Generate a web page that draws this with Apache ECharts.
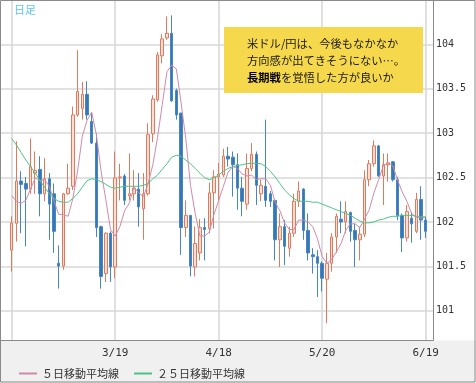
<!DOCTYPE html>
<html><head><meta charset="utf-8">
<script src="https://cdn.jsdelivr.net/npm/echarts@6/dist/echarts.min.js"></script>
<style>html,body{margin:0;padding:0;background:#fff}#c{width:476px;height:383px}</style>
</head><body><div id="c"></div>
<script>
// ---- data ----
const dates = ['2/17','2/18','2/19','2/20','2/21','2/24','2/25','2/26','2/27','2/28',
'3/3','3/4','3/5','3/6','3/7','3/10','3/11','3/12','3/13','3/14','3/17','3/18','3/19','3/20','3/21','3/24','3/25','3/26','3/27','3/28','3/31',
'4/1','4/2','4/3','4/4','4/7','4/8','4/9','4/10','4/11','4/14','4/15','4/16','4/17','4/18','4/21','4/22','4/23','4/24','4/25','4/28','4/29','4/30',
'5/1','5/2','5/5','5/6','5/7','5/8','5/9','5/12','5/13','5/14','5/15','5/16','5/19','5/20','5/21','5/22','5/23','5/26','5/27','5/28','5/29','5/30',
'6/2','6/3','6/4','6/5','6/6','6/9','6/10','6/11','6/12','6/13','6/16','6/17','6/18','6/19'];
const openP = [101.62,101.905,102.356,102.33,102.27,102.44,102.48,102.22,102.38,102.22,
101.48,101.45,102.22,102.30,103.06,103.13,103.28,102.99,102.76,101.87,
101.37,101.80,101.44,102.39,102.41,102.20,102.22,102.27,102.06,102.22,
102.86,103.22,103.69,103.88,103.93,103.32,103.08,101.86,101.99,101.44,
101.59,101.86,101.85,102.23,102.40,102.42,102.62,102.61,102.53,102.28,
102.11,102.49,102.64,102.22,102.30,102.22,102.15,101.73,101.87,101.64,
101.80,102.14,102.27,101.83,101.57,101.55,101.48,101.31,101.48,101.76,
101.95,101.92,102.02,101.83,101.73,101.79,102.37,102.54,102.73,102.41,
102.53,102.56,102.37,101.99,101.75,101.96,101.82,102.16,101.94];
const closeP = [101.91,102.356,102.32,102.27,102.51,102.47,102.22,102.38,102.11,101.82,
101.45,102.22,102.28,103.06,103.31,103.28,103.06,102.76,101.86,101.34,
101.80,101.44,102.39,102.40,102.15,102.22,102.28,102.08,102.22,102.85,
103.23,103.70,103.87,103.93,103.21,103.06,101.86,101.99,101.45,101.69,
101.86,101.84,102.23,102.40,102.43,102.62,102.59,102.53,102.28,102.14,
102.49,102.64,102.31,102.31,102.15,102.14,101.73,101.87,101.66,101.80,
102.14,102.25,101.83,101.59,101.55,101.48,101.32,101.48,101.76,101.98,
101.92,102.03,101.82,101.73,101.79,102.37,102.54,102.73,102.41,102.53,
102.55,102.37,101.99,101.75,102.03,101.90,102.16,101.94,101.82];
const lowP = [101.39,101.71,101.80,101.66,102.22,102.22,101.98,102.14,101.73,101.59,
101.21,101.41,102.21,102.26,103.04,103.01,103.01,102.75,101.76,101.21,
101.28,101.28,101.32,102.15,102.10,102.15,102.15,101.87,101.73,102.20,
102.77,103.20,103.61,103.86,103.20,103.01,101.57,101.76,101.34,101.34,
101.51,101.51,101.80,101.85,102.15,102.40,102.51,102.19,102.05,101.98,
102.05,102.46,102.10,102.14,102.08,102.08,101.51,101.44,101.46,101.55,
101.76,102.08,101.73,101.51,101.37,101.12,101.18,100.84,101.39,101.59,
101.80,101.80,101.71,101.44,101.51,101.76,102.30,102.51,102.40,102.10,
102.35,102.35,101.94,101.60,101.71,101.70,101.80,101.73,101.75];
const highP = [101.98,102.78,102.46,102.40,102.81,102.67,102.62,102.60,102.44,102.33,
101.67,102.23,102.54,103.15,103.75,103.41,103.42,103.08,102.86,101.88,
101.81,101.82,102.67,102.54,102.43,102.65,102.47,102.44,102.44,102.97,
103.27,103.73,103.92,104.11,104.12,103.34,103.08,102.15,101.99,101.87,
101.95,101.96,102.34,102.47,102.55,102.70,102.72,102.67,102.65,102.40,
102.65,102.76,102.67,102.37,103.01,102.25,102.15,102.01,101.94,101.87,
102.22,102.35,102.28,102.01,101.64,101.62,101.50,101.59,101.80,102.01,
102.14,102.14,102.03,101.90,101.87,102.47,102.58,102.79,102.74,102.65,
102.65,102.57,102.40,102.01,102.10,102.02,102.23,102.30,101.98];
const ma5 = [102.20,102.14,102.12,102.15,102.27,102.39,102.36,102.37,102.30,102.14,
102.00,102.00,101.98,102.17,102.46,102.83,103.00,103.09,102.85,102.46,
102.16,101.84,101.77,101.87,102.04,102.12,102.29,102.23,102.19,102.33,
102.53,102.82,103.17,103.52,103.59,103.55,103.19,102.81,102.31,102.01,
101.77,101.77,101.81,102.00,102.15,102.30,102.45,102.51,102.49,102.43,
102.41,102.42,102.37,102.38,102.38,102.31,102.13,102.04,101.91,101.84,
101.84,101.94,101.94,101.92,101.87,101.74,101.55,101.48,101.52,101.60,
101.69,101.83,101.90,101.90,101.86,101.95,102.05,102.23,102.37,102.52,
102.55,102.52,102.37,102.24,102.14,102.01,101.97,101.96,101.97];
const ma25 = [102.81,102.74,102.66,102.58,102.51,102.44,102.36,102.29,102.22,102.17,
102.14,102.13,102.13,102.17,102.22,102.29,102.36,102.38,102.37,102.35,
102.32,102.29,102.28,102.29,102.30,102.30,102.30,102.30,102.31,102.33,
102.38,102.42,102.48,102.54,102.61,102.63,102.62,102.58,102.54,102.49,
102.44,102.39,102.37,102.39,102.42,102.46,102.49,102.51,102.52,102.53,
102.54,102.545,102.545,102.54,102.51,102.46,102.40,102.33,102.26,102.21,
102.17,102.14,102.14,102.14,102.13,102.13,102.11,102.09,102.07,102.05,
102.03,102.01,101.99,101.96,101.93,101.91,101.91,101.92,101.94,101.95,
101.97,101.98,101.98,101.99,101.99,101.99,101.98,101.98,101.97];
const gridDates = ['2/17','3/19','4/18','5/20','6/19'];
const tickLabels = ['3/19','4/18','5/20','6/19'];
const yTickMin = 100.5, yTickMax = 104.5, yStep = 0.5;
const seriesNames = ['５日移動平均線','２５日移動平均線'];
const cornerTitle = '日足';
const noteLine1 = '米ドル/円は、今後もなかなか';
const noteLine2 = '方向感が出てきそうにない…。';
const noteBold = '長期戦';
const noteRest = 'を覚悟した方が良いか';

// ---- layout ----
const W = 476, H = 383;
const PX104 = 26.7, PPU = 93.87;       // pixel of 104 and pixels per unit
const plotTop = 1, plotBottom = 340.5, plotRight = 433;
const candles = dates.map((d, i) => [openP[i], closeP[i], lowP[i], highP[i]]);

const chart = echarts.init(document.getElementById('c'), null, {renderer: 'canvas'});
const monoFont = '"DejaVu Sans Mono", monospace';
const jpFont = '"Noto Sans CJK JP", sans-serif';

chart.setOption({
  animation: false,
  backgroundColor: '#fff',
  grid: [
    { left: 1, right: W - plotRight,
      top: PX104 - (yTickMax - 104) * PPU,
      bottom: H - (PX104 + (104 - yTickMin) * PPU) },
    { left: 11.7, right: W - 425.7, top: plotTop, bottom: H - plotBottom }
  ],
  xAxis: [
    { gridIndex: 0, type: 'value', min: 0, max: 1, show: false },
    { gridIndex: 1, type: 'category', data: dates, boundaryGap: false,
      axisLine: {show: false}, axisTick: {show: false},
      axisLabel: { interval: (i, v) => tickLabels.includes(v), margin: 7,
        color: '#333', fontSize: 11, fontFamily: monoFont },
      splitLine: { show: true, interval: (i, v) => gridDates.includes(v),
        lineStyle: {color: '#d6d6d6', width: 1.5} } }
  ],
  yAxis: [
    { gridIndex: 0, type: 'value', position: 'right', min: yTickMin, max: yTickMax, interval: yStep,
      axisLine: {show: false}, axisTick: {show: false},
      axisLabel: { showMinLabel: false, showMaxLabel: false, margin: 3, align: 'left',
        color: '#333', fontSize: 10, fontFamily: monoFont },
      splitLine: { show: true, showMinLine: false, showMaxLine: false,
        lineStyle: {color: '#e2e2e2', width: 2} } },
    { gridIndex: 1, type: 'value', show: false,
      min: 104 - (plotBottom - PX104) / PPU, max: 104 + (PX104 - plotTop) / PPU,
      splitLine: {show: false} }
  ],
  legend: {
    data: seriesNames, left: 14, top: 363, icon: 'rect', itemWidth: 18, itemHeight: 2,
    itemGap: 15, textStyle: {color: '#333', fontSize: 11, fontFamily: jpFont}
  },
  series: [
    { type: 'candlestick', xAxisIndex: 1, yAxisIndex: 1, data: candles, barWidth: 3, clip: false,
      itemStyle: { color: '#f9ded6', borderColor: '#e07a5c', color0: '#3677b8', borderColor0: '#4686c4', borderWidth: 1 } },
    { name: seriesNames[0], type: 'line', xAxisIndex: 1, yAxisIndex: 1, data: ma5, showSymbol: false,
      color: '#cf8aab', lineStyle: {width: 1, color: '#cf8aab'}, z: 3 },
    { name: seriesNames[1], type: 'line', xAxisIndex: 1, yAxisIndex: 1, data: ma25, showSymbol: false,
      color: '#4cc487', lineStyle: {width: 1, color: '#4cc487'}, z: 3 }
  ],
  graphic: [
    { type: 'rect', z: -10, shape: {x: 0, y: plotBottom, width: W, height: H - plotBottom}, style: {fill: '#f0f0f0'} },
    { type: 'line', z: 20, shape: {x1: plotRight + 0.5, y1: 0, x2: plotRight + 0.5, y2: plotBottom}, style: {stroke: '#8a8a8a', lineWidth: 1} },
    { type: 'line', z: 20, shape: {x1: 0, y1: plotBottom, x2: plotRight + 0.5, y2: plotBottom}, style: {stroke: '#8a8a8a', lineWidth: 1} },
    { type: 'rect', z: 20, shape: {x: 0.5, y: 0.5, width: W - 1.5, height: H - 1.5}, style: {fill: 'none', stroke: '#8a8a8a', lineWidth: 1} },
    { type: 'text', z: 20, x: 14, y: 4, style: {text: cornerTitle, fill: '#5cc6ef', fontSize: 11, fontFamily: jpFont} },
    { type: 'rect', z: 15, shape: {x: 224, y: 27, width: 199, height: 66}, style: {fill: '#f6d84c'} },
    { type: 'text', z: 16, x: 247, y: 35.5, style: {
        text: noteLine1 + '\n' + noteLine2 + '\n{b|' + noteBold + '}' + noteRest,
        fill: '#1a1a1a', fontSize: 11.3, fontFamily: jpFont, lineHeight: 17,
        rich: { b: {fontWeight: 'bold', fontSize: 11.3, fontFamily: jpFont, fill: '#000', lineHeight: 17} } } }
  ]
});
</script>
</body></html>
